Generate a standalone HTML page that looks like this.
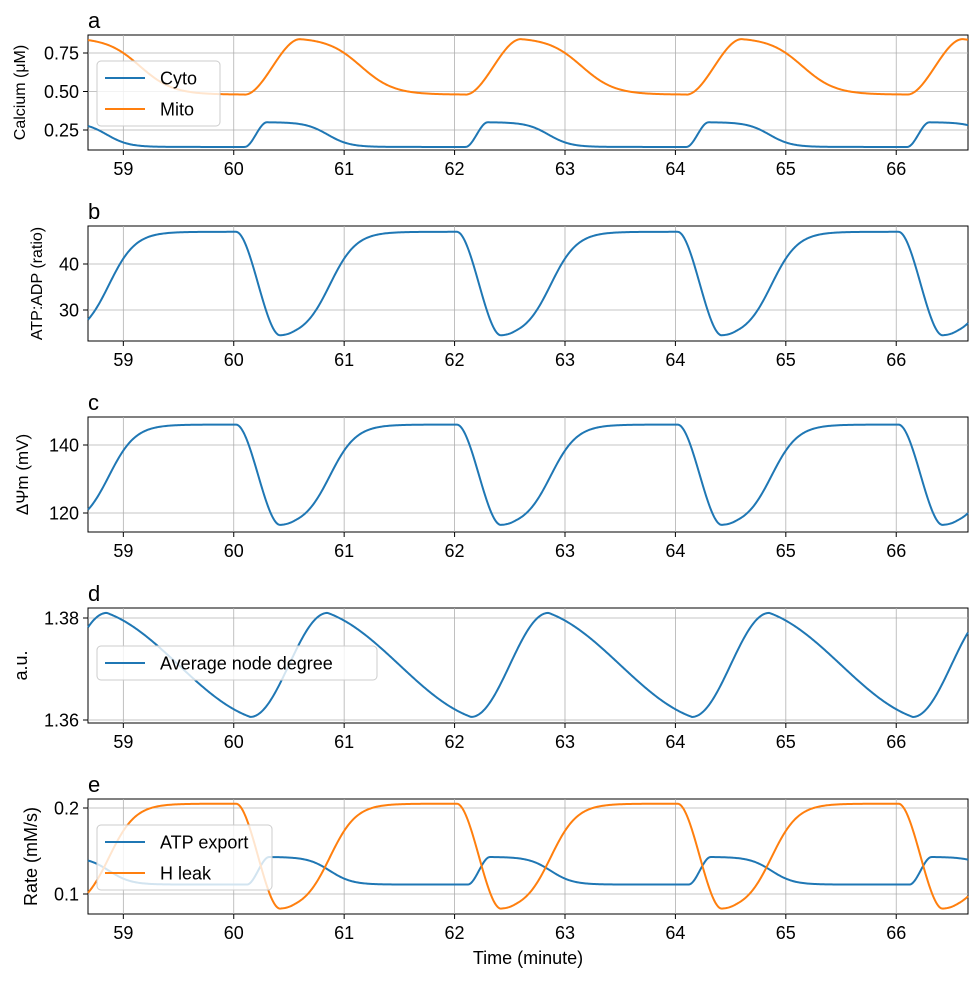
<!DOCTYPE html>
<html><head><meta charset="utf-8"><style>
body{margin:0;background:#fff}
svg text{font-family:"Liberation Sans","DejaVu Sans",sans-serif;fill:#000}
</style></head><body>
<svg id="s" width="978" height="977" xmlns="http://www.w3.org/2000/svg"></svg>
<script>
const S=document.getElementById('s');let h='';
const X0=88,X1=968,T0=58.68,T1=66.65;
const tx=t=>X0+(t-T0)*(X1-X0)/(T1-T0);
const sm=x=>{x=Math.max(0,Math.min(1,x));return x*x*(3-2*x)};
const md=(t,o)=>{let p=(t-o)%2;if(p<0)p+=2;return p;};
function cyto(t,lo,hi){const p=md(t,60.1);if(p<0.2)return lo+(hi-lo)*sm(p/0.2);
 const a=1/(1+Math.exp((p-0.75)/0.1)),a0=1/(1+Math.exp((0.2-0.75)/0.1));return lo+(hi-lo)*a/a0;}
function mito(t){const p=md(t,60.1);if(p<0.5)return 0.48+0.36*sm(p/0.5);
 const a=1/(1+Math.exp((p-1.05)/0.15)),a0=1/(1+Math.exp((0.5-1.05)/0.15));return 0.48+0.36*a/a0;}
function dip(t,hi,lo){const p=md(t,60.02);if(p<0.4)return hi-(hi-lo)*sm(p/0.4);
 const q=p-0.4;const f=x=>1/(1+Math.exp(-(x-0.45)/0.12));const r=(f(q)-f(0))/(1-f(0));
 const blend=q<0.15?sm(q/0.15):1;return lo+(hi-lo)*(r*blend+ (1-blend)*0.5*r);}
function deg(t){const p=md(t,60.15);const mn=1.3606,mx=1.381;if(p<0.7)return mn+(mx-mn)*(1-Math.cos(Math.PI*p/0.7))/2;
 const q=(p-0.7)/1.3;return mx-(mx-mn)*(0.5*q+0.5*(1-Math.cos(Math.PI*q))/2);}
function panel(top,bot,letter,ylab,ticks,v2y,series,legend){
 h+=`<rect x="${X0}" y="${top}" width="${X1-X0}" height="${bot-top}" fill="none" stroke="#000" stroke-width="1"/>`;
 for(let m=59;m<=66;m++){const x=tx(m);h+=`<line x1="${x}" y1="${top}" x2="${x}" y2="${bot}" stroke="#b0b0b0" stroke-width="0.8"/><line x1="${x}" y1="${bot}" x2="${x}" y2="${bot+5}" stroke="#000"/><text x="${x}" y="${bot+25}" font-size="18" text-anchor="middle">${m}</text>`;}
 for(const [v,l] of ticks){const y=v2y(v);h+=`<line x1="${X0}" y1="${y}" x2="${X1}" y2="${y}" stroke="#b0b0b0" stroke-width="0.8"/><line x1="${X0-5}" y1="${y}" x2="${X0}" y2="${y}" stroke="#000"/><text x="${X0-9}" y="${y+6.5}" font-size="18" text-anchor="end">${l}</text>`;}
 for(const [f,c] of series){let d='';for(let x=X0;x<=X1;x+=1){const t=T0+(x-X0)*(T1-T0)/(X1-X0);d+=(d?'L':'M')+x+','+v2y(f(t)).toFixed(2);}
  h+=`<path d="${d}" fill="none" stroke="${c}" stroke-width="2"/>`;}
 h+=`<text x="88" y="${top-7}" font-size="22">${letter}</text>`;
 const cy=(top+bot)/2;h+=`<text transform="translate(${ylab[2]},${cy}) rotate(-90)" font-size="${ylab[1]}" text-anchor="middle">${ylab[0]}</text>`;
 if(legend){const [lx,ly,w,items]=legend;const hh=items.length*31+3;
  h+=`<rect x="${lx}" y="${ly}" width="${w}" height="${hh}" rx="4" fill="#fff" fill-opacity="0.8" stroke="#ccc"/>`;
  items.forEach(([n,c],i)=>{const y=ly+17+i*31;h+=`<line x1="${lx+8}" y1="${y}" x2="${lx+48}" y2="${y}" stroke="${c}" stroke-width="2"/><text x="${lx+63}" y="${y+6.5}" font-size="18">${n}</text>`;});}
}
const B='#1f77b4',O='#ff7f0e';
panel(35,150,'a',['Calcium (μM)',16,25],[[0.25,'0.25'],[0.5,'0.50'],[0.75,'0.75']],v=>130-(v-0.25)*154,
 [[t=>cyto(t,0.14,0.30),B],[mito,O]],[97,61,123,[['Cyto',B],['Mito',O]]]);
panel(226,341,'b',['ATP:ADP (ratio)',16,42],[[30,'30'],[40,'40']],v=>264-(v-40)*4.6,[[t=>dip(t,47,24.5),B]]);
panel(417,532,'c',['ΔΨm (mV)',17,28],[[120,'120'],[140,'140']],v=>445-(v-140)*3.4,[[t=>dip(t,146,116.5),B]]);
panel(608,723,'d',['a.u.',18,27],[[1.36,'1.36'],[1.38,'1.38']],v=>720-(v-1.36)*5100,[[deg,B]],[97,646,280,[['Average node degree',B]]]);
panel(799,914,'e',['Rate (mM/s)',18,37],[[0.1,'0.1'],[0.2,'0.2']],v=>894-(v-0.1)*860,
 [[t=>cyto(t-0.02,0.111,0.143),B],[t=>dip(t,0.205,0.083),O]],[97,825,175,[['ATP export',B],['H leak',O]]]);
h+=`<text x="528" y="964" font-size="18" text-anchor="middle">Time (minute)</text>`;
S.innerHTML=h;
</script>
</body></html>
